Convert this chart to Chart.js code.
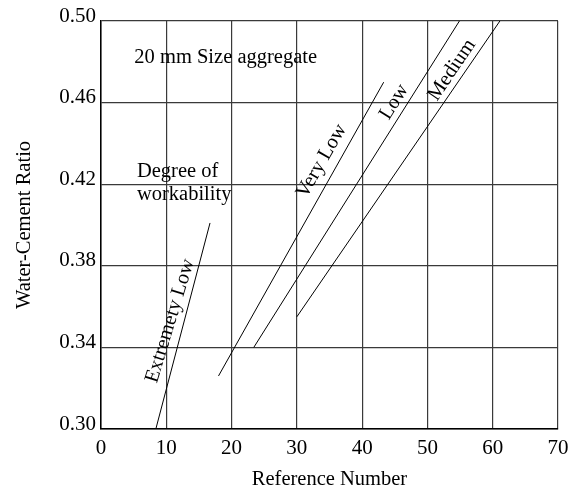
<!DOCTYPE html>
<html>
<head>
<meta charset="utf-8">
<script src="https://cdn.jsdelivr.net/npm/chart.js@4.4.1/dist/chart.umd.min.js"></script>
<style>
  html, body { margin: 0; padding: 0; background: #fff; }
  #wrap { width: 579px; height: 492px; }
</style>
</head>
<body>
<div id="wrap"><canvas id="c" width="579" height="492"></canvas></div>
<script>
// ---- data ----
const xTicks = [0, 10, 20, 30, 40, 50, 60, 70];
const yTicks = [0.30, 0.34, 0.38, 0.42, 0.46, 0.50];

const refExtremelyLow = [8.4, 16.7];
const wcExtremelyLow  = [0.300, 0.401];
const refVeryLow = [18.0, 43.3];
const wcVeryLow  = [0.326, 0.470];
const refLow = [23.4, 54.9];
const wcLow  = [0.340, 0.500];
const refMedium = [30.0, 61.1];
const wcMedium  = [0.355, 0.500];

// text annotations: text, x value, y value, rotation (deg), alignment
const noteTexts = ["20 mm Size aggregate", "Degree of", "workability", "Very Low", "Low", "Medium", "Extremety Low"];
const noteX = [19.1, 5.5, 5.5, 33.8, 44.9, 53.75, 10.6];
const noteY = [0.482, 0.426, 0.4147, 0.4314, 0.4603, 0.476, 0.353];
const noteRot = [0, 0, 0, -60, -58, -56, -73];
const noteAlign = ["center", "left", "left", "center", "center", "center", "center"];

const FONT = "'Liberation Serif', 'Times New Roman', serif";

function pts(xs, ys) { return xs.map((x, i) => ({ x: x, y: ys[i] })); }
function lineDs(label, xs, ys) {
  return { label, data: pts(xs, ys), borderColor: '#000', borderWidth: 1, pointRadius: 0, showLine: true, fill: false, tension: 0 };
}

const notesPlugin = {
  id: 'notes',
  afterDatasetsDraw(chart) {
    const { ctx, scales } = chart;
    ctx.save();
    ctx.fillStyle = '#000';
    ctx.font = '20.5px ' + FONT;
    ctx.textBaseline = 'middle';
    noteTexts.forEach((t, i) => {
      const px = scales.x.getPixelForValue(noteX[i]);
      const py = scales.y.getPixelForValue(noteY[i]);
      ctx.save();
      ctx.translate(px, py);
      ctx.rotate(noteRot[i] * Math.PI / 180);
      ctx.textAlign = noteAlign[i];
      ctx.fillText(t, 0, 0);
      ctx.restore();
    });
    ctx.restore();
  }
};

new Chart(document.getElementById('c'), {
  type: 'scatter',
  data: {
    datasets: [
      lineDs('Extremety Low', refExtremelyLow, wcExtremelyLow),
      lineDs('Very Low', refVeryLow, wcVeryLow),
      lineDs('Low', refLow, wcLow),
      lineDs('Medium', refMedium, wcMedium)
    ]
  },
  options: {
    responsive: false,
    animation: false,
    layout: { padding: { top: 21, right: 21, left: 0, bottom: 0 } },
    plugins: { legend: { display: false }, tooltip: { enabled: false } },
    scales: {
      x: {
        type: 'linear',
        min: xTicks[0], max: xTicks[xTicks.length - 1],
        afterBuildTicks(s) { s.ticks = xTicks.map(v => ({ value: v })); },
        afterFit(s) { s.height = 63; },
        grid: { color: '#3a3a3a', lineWidth: 1.2, drawTicks: false },
        border: { color: '#000', width: 1.5 },
        ticks: { color: '#000', font: { family: FONT, size: 21 }, padding: 7, callback: v => String(v) },
        title: { display: true, text: 'Reference Number', color: '#000', font: { family: FONT, size: 20.5 }, padding: { top: 0, bottom: 0 } }
      },
      y: {
        type: 'linear',
        min: yTicks[0], max: yTicks[yTicks.length - 1],
        afterBuildTicks(s) { s.ticks = yTicks.map(v => ({ value: v })); },
        afterFit(s) { s.width = 101; },
        grid: { color: '#3a3a3a', lineWidth: 1.2, drawTicks: false },
        border: { color: '#000', width: 1.5 },
        ticks: { color: '#000', font: { family: FONT, size: 21 }, padding: 5, labelOffset: -5, callback: v => Number(v).toFixed(2) },
        title: { display: true, text: 'Water-Cement Ratio', color: '#000', font: { family: FONT, size: 20.5 }, padding: { top: 12, bottom: 0 } }
      }
    }
  },
  plugins: [notesPlugin]
});
</script>
</body>
</html>
